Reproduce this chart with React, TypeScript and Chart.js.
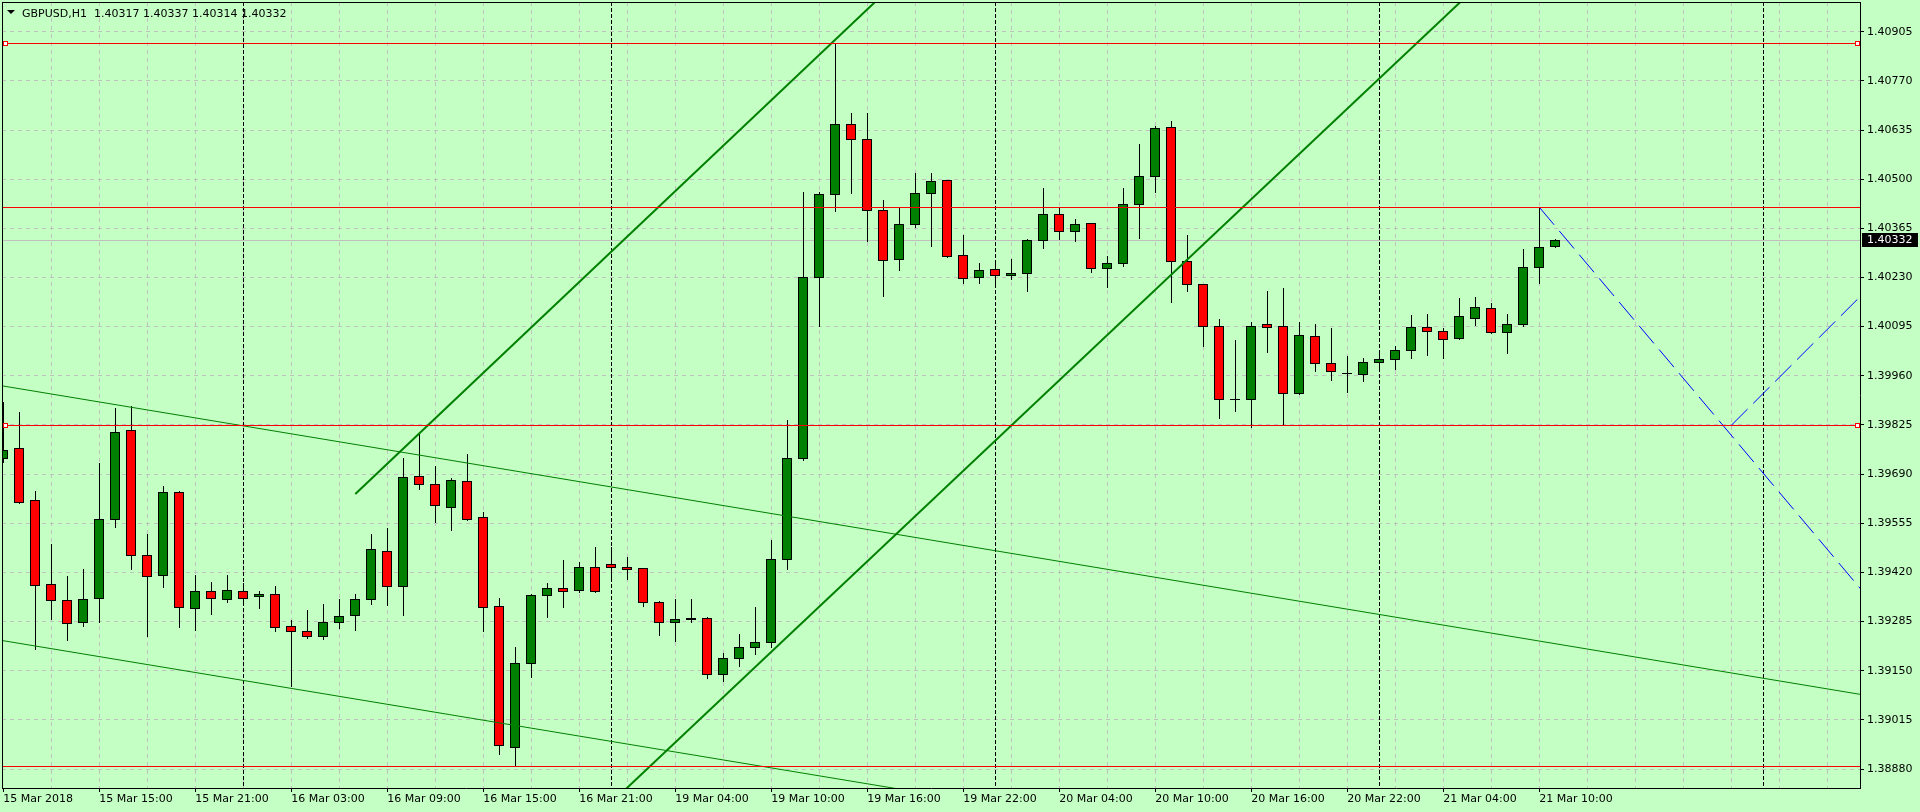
import React, { useEffect, useRef } from 'react';
import { Chart, registerables } from 'chart.js';

Chart.register(...registerables);

// ---------- data ----------
const SYMBOL = 'GBPUSD';
const PERIOD = 'H1';

const OPEN = [
  1.39734, 1.39761, 1.39618, 1.39387, 1.39343, 1.39283, 1.39350, 1.39566, 1.39810, 1.39467,
  1.39414, 1.39640, 1.39321, 1.39368, 1.39348, 1.39368, 1.39354, 1.39362, 1.39272, 1.39258,
  1.39244, 1.39285, 1.39302, 1.39346, 1.39480, 1.39384, 1.39686, 1.39664, 1.39601, 1.39670,
  1.39571, 1.39329, 1.38941, 1.39170, 1.39357, 1.39376, 1.39371, 1.39434, 1.39442, 1.39434,
  1.39431, 1.39340, 1.39283, 1.39291, 1.39296, 1.39140, 1.39186, 1.39214, 1.39230, 1.39458,
  1.39733, 1.40230, 1.40458, 1.40651, 1.40609, 1.40414, 1.40280, 1.40376, 1.40461, 1.40497,
  1.40291, 1.40230, 1.40252, 1.40236, 1.40241, 1.40332, 1.40403, 1.40357, 1.40379, 1.40255,
  1.40269, 1.40431, 1.40508, 1.40642, 1.40274, 1.40211, 1.40098, 1.39896, 1.39897, 1.40101,
  1.40096, 1.39912, 1.40068, 1.39994, 1.39969, 1.39966, 1.39997, 1.40005, 1.40030, 1.40093,
  1.40082, 1.40063, 1.40120, 1.40145, 1.40079, 1.40101, 1.40258, 1.40317,
];
const HIGH = [
  1.39887, 1.39861, 1.39643, 1.39499, 1.39410, 1.39429, 1.39720, 1.39871, 1.39876, 1.39525,
  1.39657, 1.39643, 1.39413, 1.39394, 1.39413, 1.39391, 1.39369, 1.39382, 1.39289, 1.39316,
  1.39332, 1.39347, 1.39362, 1.39525, 1.39542, 1.39733, 1.39804, 1.39711, 1.39678, 1.39744,
  1.39585, 1.39349, 1.39215, 1.39362, 1.39392, 1.39454, 1.39448, 1.39490, 1.39490, 1.39462,
  1.39433, 1.39342, 1.39348, 1.39346, 1.39298, 1.39200, 1.39252, 1.39326, 1.39508, 1.39838,
  1.40465, 1.40465, 1.40875, 1.40683, 1.40681, 1.40443, 1.40423, 1.40517, 1.40517, 1.40499,
  1.40346, 1.40269, 1.40277, 1.40282, 1.40337, 1.40477, 1.40423, 1.40390, 1.40381, 1.40288,
  1.40477, 1.40597, 1.40645, 1.40659, 1.40348, 1.40213, 1.40115, 1.40058, 1.40107, 1.40193,
  1.40201, 1.40109, 1.40101, 1.40091, 1.40014, 1.40008, 1.40030, 1.40043, 1.40127, 1.40129,
  1.40091, 1.40173, 1.40176, 1.40160, 1.40131, 1.40307, 1.40423, 1.40337,
];
const LOW = [
  1.39724, 1.39610, 1.39211, 1.39292, 1.39235, 1.39273, 1.39284, 1.39545, 1.39429, 1.39246,
  1.39381, 1.39271, 1.39262, 1.39306, 1.39338, 1.39338, 1.39323, 1.39258, 1.39109, 1.39240,
  1.39238, 1.39268, 1.39262, 1.39332, 1.39331, 1.39304, 1.39649, 1.39559, 1.39537, 1.39565,
  1.39260, 1.38922, 1.38887, 1.39133, 1.39298, 1.39326, 1.39365, 1.39366, 1.39401, 1.39401,
  1.39328, 1.39249, 1.39232, 1.39283, 1.39131, 1.39122, 1.39164, 1.39197, 1.39214, 1.39428,
  1.39730, 1.40097, 1.40413, 1.40463, 1.40331, 1.40178, 1.40251, 1.40369, 1.40317, 1.40285,
  1.40216, 1.40216, 1.40203, 1.40225, 1.40192, 1.40310, 1.40336, 1.40329, 1.40244, 1.40203,
  1.40261, 1.40339, 1.40466, 1.40163, 1.40192, 1.40043, 1.39845, 1.39864, 1.39820, 1.40025,
  1.39828, 1.39909, 1.39974, 1.39949, 1.39916, 1.39946, 1.39974, 1.39980, 1.40008, 1.40018,
  1.40008, 1.40060, 1.40100, 1.40078, 1.40023, 1.40098, 1.40216, 1.40314,
];
const CLOSE = [
  1.39756, 1.39614, 1.39386, 1.39343, 1.39280, 1.39348, 1.39568, 1.39807, 1.39469, 1.39409,
  1.39642, 1.39324, 1.39368, 1.39351, 1.39371, 1.39351, 1.39362, 1.39271, 1.39258, 1.39244,
  1.39283, 1.39299, 1.39346, 1.39483, 1.39384, 1.39681, 1.39662, 1.39606, 1.39673, 1.39568,
  1.39326, 1.38945, 1.39170, 1.39359, 1.39376, 1.39368, 1.39434, 1.39368, 1.39434, 1.39428,
  1.39340, 1.39283, 1.39291, 1.39296, 1.39142, 1.39186, 1.39214, 1.39230, 1.39456, 1.39733,
  1.40230, 1.40458, 1.40651, 1.40609, 1.40414, 1.40277, 1.40376, 1.40461, 1.40494, 1.40288,
  1.40228, 1.40250, 1.40236, 1.40241, 1.40332, 1.40403, 1.40357, 1.40376, 1.40255, 1.40269,
  1.40431, 1.40508, 1.40640, 1.40274, 1.40211, 1.40098, 1.39895, 1.39896, 1.40098, 1.40093,
  1.39912, 1.40071, 1.39994, 1.39972, 1.39969, 1.39999, 1.40005, 1.40032, 1.40093, 1.40082,
  1.40060, 1.40123, 1.40148, 1.40079, 1.40101, 1.40258, 1.40313, 1.40332,
];

const Y_TICKS = [
  1.38880, 1.39015, 1.39150, 1.39285, 1.39420, 1.39555, 1.39690, 1.39825,
  1.39960, 1.40095, 1.40230, 1.40365, 1.40500, 1.40635, 1.40770, 1.40905,
];
const Y_MIN = 1.388279;
const Y_MAX = 1.409866;
const X_MIN = -0.081;
const X_MAX = 116.044;
const X_GRID_STEP = 3;

const LABEL_BARS = [0, 6, 12, 18, 24, 30, 36, 42, 48, 54, 60, 66, 72, 78, 84, 90, 96];
const LABEL_TEXTS = [
  '15 Mar 2018', '15 Mar 15:00', '15 Mar 21:00', '16 Mar 03:00', '16 Mar 09:00',
  '16 Mar 15:00', '16 Mar 21:00', '19 Mar 04:00', '19 Mar 10:00', '19 Mar 16:00',
  '19 Mar 22:00', '20 Mar 04:00', '20 Mar 10:00', '20 Mar 16:00', '20 Mar 22:00',
  '21 Mar 04:00', '21 Mar 10:00',
];
const DAY_SEPARATORS = [15, 38, 62, 86, 110];

const RED_LEVELS = [1.40873, 1.40423, 1.39825, 1.38888];
const HANDLE_LEVELS = [1.40873, 1.39825];

const CHANNEL_TOP_X = [-1, 117];
const CHANNEL_TOP_Y = [1.399392, 1.390782];
const CHANNEL_BOTTOM_X = [-1, 60];
const CHANNEL_BOTTOM_Y = [1.392397, 1.387958];
const TREND_A_X = [22, 60];
const TREND_A_Y = [1.396353, 1.41216];
const TREND_B_X = [36, 95];
const TREND_B_Y = [1.387045, 1.411495];
const PROJ_DOWN_X = [96, 117];
const PROJ_DOWN_Y = [1.40423, 1.393268];
const PROJ_UP_X = [108, 117];
const PROJ_UP_Y = [1.39824, 1.402191];

// ---------- styles ----------
const BG = '#c4ffc4';
const GRID = '#c0c0c0';
const BULL = '#008000';
const BEAR = '#ff0000';
const FONT = 'DejaVu Sans';

const pts = (xs: number[], ys: number[]) => xs.map((x, k) => ({ x, y: ys[k] }));

const mtPlugin = {
  id: 'mt4',
  beforeDraw(chart: any) {
    const { ctx, width, height } = chart;
    ctx.save();
    ctx.fillStyle = BG;
    ctx.fillRect(0, 0, width, height);
    ctx.restore();
  },
  beforeDatasetsDraw(chart: any) {
    const { ctx, chartArea: a, scales } = chart;
    const xs = scales.x;
    const ys = scales.y;
    ctx.save();
    ctx.beginPath();
    ctx.rect(a.left, a.top, a.right - a.left, a.bottom - a.top);
    ctx.clip();
    // day separators
    ctx.strokeStyle = '#000';
    ctx.lineWidth = 1;
    ctx.setLineDash([4, 2]);
    for (const b of DAY_SEPARATORS) {
      const px = Math.round(xs.getPixelForValue(b)) + 0.5;
      ctx.beginPath();
      ctx.moveTo(px, a.top);
      ctx.lineTo(px, a.bottom);
      ctx.stroke();
    }
    ctx.setLineDash([]);
    // bid line
    const last = CLOSE[CLOSE.length - 1];
    const by = Math.round(ys.getPixelForValue(last));
    ctx.fillStyle = GRID;
    ctx.fillRect(a.left, by, a.right - a.left, 1);
    // candles
    for (let i = 0; i < OPEN.length; i++) {
      const cx = Math.round(xs.getPixelForValue(i));
      const yh = Math.round(ys.getPixelForValue(HIGH[i]));
      const yl = Math.round(ys.getPixelForValue(LOW[i]));
      const yo = Math.round(ys.getPixelForValue(OPEN[i]));
      const yc = Math.round(ys.getPixelForValue(CLOSE[i]));
      const top = Math.min(yo, yc);
      const bot = Math.max(yo, yc);
      ctx.fillStyle = '#000';
      ctx.fillRect(cx, yh, 1, yl - yh + 1);
      if (bot - top < 1) {
        ctx.fillRect(cx - 5, top, 10, 1);
      } else {
        ctx.fillRect(cx - 5, top, 10, bot - top + 1);
        if (bot - top > 1) {
          ctx.fillStyle = CLOSE[i] > OPEN[i] ? BULL : BEAR;
          ctx.fillRect(cx - 4, top + 1, 8, bot - top - 1);
        }
      }
    }
    ctx.restore();
  },
  afterDatasetsDraw(chart: any) {
    const { ctx, chartArea: a, scales } = chart;
    const ys = scales.y;
    ctx.save();
    ctx.fillStyle = '#ff0000';
    for (const lv of RED_LEVELS) {
      const py = Math.round(ys.getPixelForValue(lv));
      ctx.fillRect(a.left, py, a.right - a.left, 1);
    }
    // selection handles
    for (const lv of HANDLE_LEVELS) {
      const py = Math.round(ys.getPixelForValue(lv));
      for (const hx of [a.left + 1, a.right - 5]) {
        ctx.fillStyle = '#ff0000';
        ctx.fillRect(hx, py - 2, 5, 5);
        ctx.fillStyle = '#ffffff';
        ctx.fillRect(hx + 1, py - 1, 3, 3);
      }
    }
    ctx.restore();
  },
  afterDraw(chart: any) {
    const { ctx, chartArea: a, scales } = chart;
    const ys = scales.y;
    ctx.save();
    // frame top / left
    ctx.fillStyle = '#000';
    ctx.fillRect(a.left, a.top, a.right - a.left + 1, 1);
    ctx.fillRect(a.left, a.top, 1, a.bottom - a.top + 1);
    // current price box
    const last = CLOSE[CLOSE.length - 1];
    const py = Math.round(ys.getPixelForValue(last));
    ctx.fillStyle = '#000';
    ctx.fillRect(a.right + 2, py - 7, 56, 14);
    ctx.fillStyle = '#ffffff';
    ctx.font = `11px "${FONT}"`;
    ctx.textBaseline = 'middle';
    ctx.textAlign = 'left';
    ctx.fillText(last.toFixed(5), a.right + 7, py + 0.5);
    // title
    const n = CLOSE.length - 1;
    ctx.fillStyle = '#000';
    ctx.beginPath();
    ctx.moveTo(a.left + 5, a.top + 8);
    ctx.lineTo(a.left + 13, a.top + 8);
    ctx.lineTo(a.left + 9, a.top + 12);
    ctx.closePath();
    ctx.fill();
    ctx.textBaseline = 'alphabetic';
    const title = `${SYMBOL},${PERIOD}  ${OPEN[n].toFixed(5)} ${HIGH[n].toFixed(5)} ${LOW[n].toFixed(5)} ${CLOSE[n].toFixed(5)}`;
    ctx.fillText(title, a.left + 20, a.top + 15);
    ctx.restore();
  },
};

export default function App() {
  const ref = useRef<HTMLCanvasElement>(null);
  useEffect(() => {
    const lineDs = (xs: number[], ys: number[], color: string, width: number, dash: number[] = []) => ({
      type: 'line' as const,
      data: pts(xs, ys),
      borderColor: color,
      borderWidth: width,
      borderDash: dash,
      pointRadius: 0,
      fill: false,
      tension: 0,
    });
    const chart = new Chart(ref.current as HTMLCanvasElement, {
      type: 'line',
      data: {
        datasets: [
          lineDs(PROJ_DOWN_X, PROJ_DOWN_Y, '#0000ff', 1, [23, 8]),
          lineDs(PROJ_UP_X, PROJ_UP_Y, '#0000ff', 1, [23, 8]),
          lineDs(TREND_A_X, TREND_A_Y, '#008000', 2),
          lineDs(TREND_B_X, TREND_B_Y, '#008000', 2),
          lineDs(CHANNEL_TOP_X, CHANNEL_TOP_Y, '#008000', 1),
          lineDs(CHANNEL_BOTTOM_X, CHANNEL_BOTTOM_Y, '#008000', 1),
        ],
      },
      options: {
        animation: false,
        responsive: false,
        devicePixelRatio: 1,
        events: [],
        layout: { padding: { left: 2, top: 2, right: 0, bottom: 0 } },
        plugins: { legend: { display: false }, tooltip: { enabled: false } },
        scales: {
          x: {
            type: 'linear',
            min: X_MIN,
            max: X_MAX,
            afterBuildTicks: (s: any) => {
              const t: any[] = [];
              for (let v = 0; v <= X_MAX; v += X_GRID_STEP) t.push({ value: v });
              s.ticks = t;
            },
            afterFit: (s: any) => {
              s.height = 24;
              s.paddingLeft = 0;
              s.paddingRight = 0;
            },
            ticks: {
              autoSkip: false,
              maxRotation: 0,
              minRotation: 0,
              align: 'start',
              padding: 1,
              color: '#000',
              font: { family: FONT, size: 11 },
              callback: (v: any) => {
                const k = LABEL_BARS.indexOf(Number(v));
                return k >= 0 ? LABEL_TEXTS[k] : '';
              },
            },
            grid: {
              color: (c: any) => (c.tick && c.tick.value === 0 ? 'rgba(0,0,0,0)' : GRID),
              lineWidth: 1,
              tickLength: 4,
              tickColor: (c: any) => (c.tick && LABEL_BARS.indexOf(c.tick.value) >= 0 ? '#000' : 'rgba(0,0,0,0)'),
              tickBorderDash: [],
            },
            border: { display: true, color: '#000', width: 1, dash: [4, 4] },
          },
          y: {
            type: 'linear',
            position: 'right',
            min: Y_MIN,
            max: Y_MAX,
            afterBuildTicks: (s: any) => {
              s.ticks = Y_TICKS.map((v) => ({ value: v }));
            },
            afterFit: (s: any) => {
              s.width = 60;
              s.paddingTop = 0;
              s.paddingBottom = 0;
            },
            ticks: {
              padding: 3,
              color: '#000',
              font: { family: FONT, size: 11 },
              callback: (v: any) => Number(v).toFixed(5),
            },
            grid: {
              color: GRID,
              lineWidth: 1,
              tickLength: 4,
              tickColor: '#000',
              tickBorderDash: [],
            },
            border: { display: true, color: '#000', width: 1, dash: [4, 4] },
          },
        },
      },
      plugins: [mtPlugin],
    } as any);
    return () => chart.destroy();
  }, []);
  return (
    <div style={{ position: 'absolute', left: 0, top: 0, width: 1920, height: 812 }}>
      <canvas ref={ref} width={1920} height={812} style={{ display: 'block', width: 1920, height: 812 }} />
    </div>
  );
}
